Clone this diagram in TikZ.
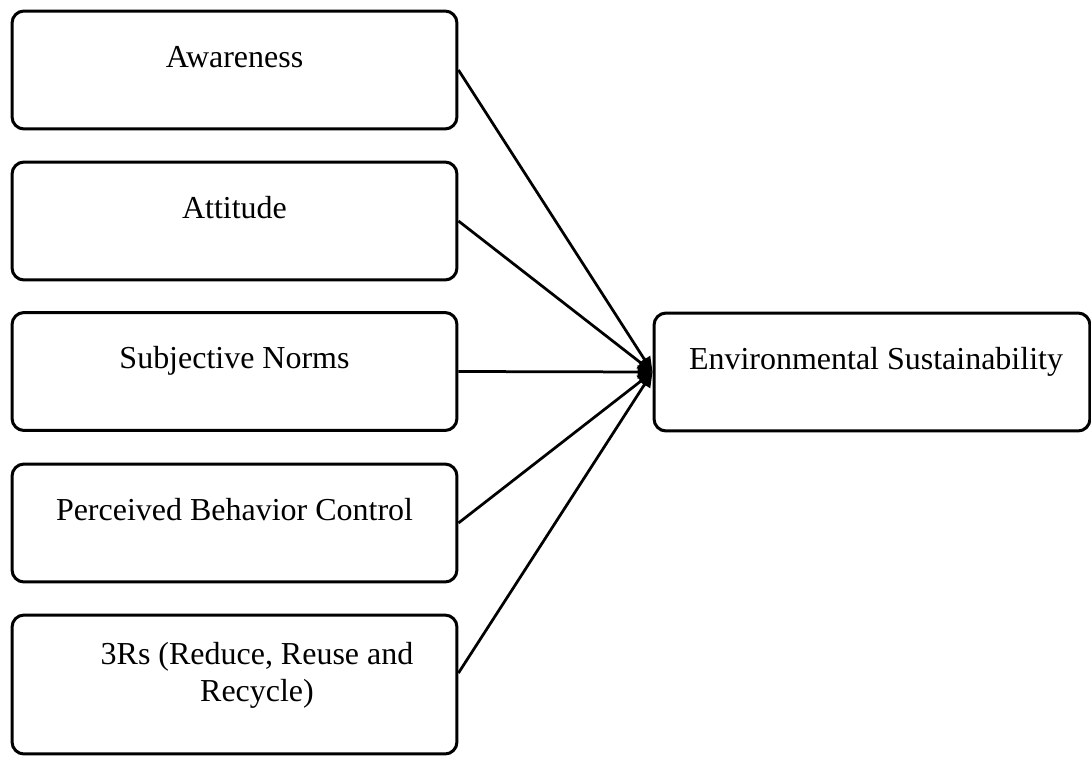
\documentclass[tikz,border=0pt]{standalone}
\usepackage{fontspec}
\setmainfont{Liberation Serif}
\usepackage{tikz}
\usetikzlibrary{arrows.meta}
\tikzstyle{factor}=[draw, line width=0.06cm, rounded corners=0.24cm, minimum width=8.9cm, minimum height=2.36cm, inner sep=0pt]
\tikzstyle{txt}=[inner sep=0pt, font=\fontsize{18.2}{20.9}\selectfont, align=center]
\tikzstyle{ltxt}=[txt, text height=0.7em, text depth=0.25em, yshift=0.13cm]
\tikzstyle{link}=[line width=0.055cm, -{Triangle[length=0.3cm, width=0.26cm]}]

\begin{document}
\begin{tikzpicture}[x=0.02cm, y=-0.02cm]
    \useasboundingbox (0, 0) rectangle (1091, 760);
    \node[factor, label={[ltxt]center:Awareness}] (Aw) at (234.5, 70) {};
    \node[factor, label={[ltxt]center:Attitude}] (At) at (234.5, 221) {};
    \node[factor, label={[ltxt]center:Subjective Norms}] (SN) at (234.5, 371.5) {};
    \node[factor, label={[ltxt]center:Perceived Behavior Control}] (PBC) at (234.5, 523) {};
    \node[factor, minimum height=2.78cm, label={[txt, xshift=0.45cm, yshift=0.19cm]center:{3Rs (Reduce, Reuse and\\Recycle)}}] (R3) at (234.5, 684.5) {};
    \node[factor, minimum width=8.72cm, label={[ltxt, xshift=0.08cm]center:Environmental Sustainability}] (ES) at (872, 372) {};
    \draw[link] (Aw.east) -- (ES.west);
    \draw[link] (At.east) -- (ES.west);
    \draw[link] (SN.east) -- (ES.west);
    \draw[link] (PBC.east) -- (ES.west);
    \draw[link] ([yshift=0.23cm]R3.east) -- (ES.west);
\end{tikzpicture}
\end{document}
